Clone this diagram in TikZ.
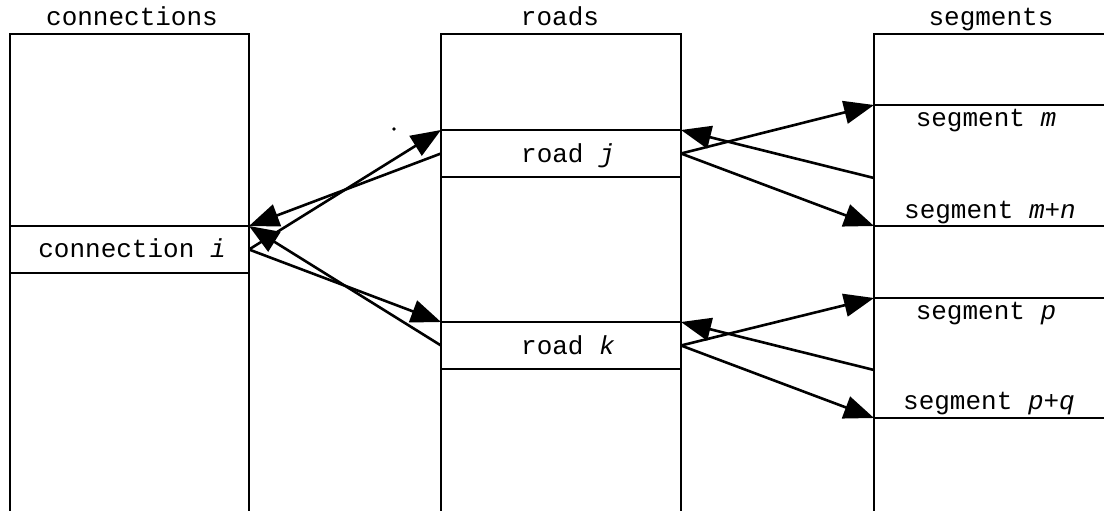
\documentclass[tikz,border=0pt]{standalone}
\usepackage{fontspec}
\newfontfamily\courfont{Liberation Mono}
\usetikzlibrary{arrows.meta}
\begin{document}
\begin{tikzpicture}[x=1pt,y=-1pt,
  line width=2.6pt,
  lbl/.style={font=\courfont\fontsize{26}{30}\selectfont, anchor=base, inner sep=0pt},
  row/.style={draw, rectangle, inner sep=0pt, outer sep=0pt, anchor=north west},
  conn/.style={-{Triangle[length=30pt,width=23pt]}, line width=2.6pt},
]
\useasboundingbox (0,0) rectangle (1104,511);
\clip (0,0) rectangle (1104,511);
% tables
\draw (10,520) -- (10,34) -- (249,34) -- (249,520);
\draw (441,520) -- (441,34) -- (681,34) -- (681,520);
\draw (874,520) -- (874,34) -- (1120,34);
% titles
\node[lbl] (tconn) at (132,26) {connections};
\node[lbl] (troad) at (560,26) {roads};
\node[lbl] (tseg) at (991,26) {segments};
% rows
\node[row, minimum width=239pt, minimum height=47pt] (conni) at (10,226) {};
\node[row, minimum width=240pt, minimum height=47pt] (roadj) at (441,130) {};
\node[row, minimum width=240pt, minimum height=47pt] (roadk) at (441,322) {};
\node[row, minimum width=260pt, minimum height=121pt] (segmj) at (874,105) {};
\node[row, minimum width=260pt, minimum height=120pt] (segpk) at (874,298) {};
% labels
\node[lbl] (lconn) at (132,257) {connection \textit{i}};
\node[lbl] (lroadj) at (568,162) {road \textit{j}};
\node[lbl] (lroadk) at (568,354) {road \textit{k}};
\node[lbl] (lsegm) at (986,127) {segment \textit{m}};
\node[lbl] (lsegmn) at (990,218) {segment \textit{m+n}};
\node[lbl] (lsegp) at (986,319) {segment \textit{p}};
\node[lbl] (lsegpq) at (989,409) {segment \textit{p+q}};
% stray dot
\fill (394,129) circle (1.8pt);
% back-reference points on segments
\coordinate (sj) at (874,178);
\coordinate (sk) at (874,370);
% connectors
\draw[conn] (roadj.west) -- (conni.north east);
\draw[conn] (conni.east) -- (roadj.north west);
\draw[conn] (conni.east) -- (roadk.north west);
\draw[conn] (roadk.west) -- (conni.north east);
\draw[conn] (roadj.east) -- (segmj.north west);
\draw[conn] (sj) -- (roadj.north east);
\draw[conn] (roadj.east) -- (segmj.south west);
\draw[conn] (roadk.east) -- (segpk.north west);
\draw[conn] (sk) -- (roadk.north east);
\draw[conn] (roadk.east) -- (segpk.south west);
\end{tikzpicture}
\end{document}
